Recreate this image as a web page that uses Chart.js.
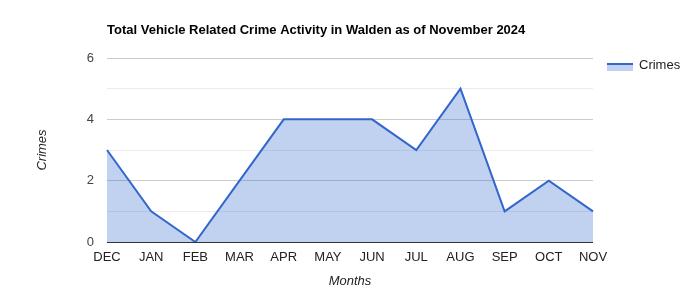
<!DOCTYPE html>
<html>
<head>
<meta charset="utf-8">
<script src="https://cdn.jsdelivr.net/npm/chart.js@4/dist/chart.umd.min.js"></script>
<style>
    html, body { margin: 0; padding: 0; background: #fff; }
    #wrap { width: 700px; height: 300px; position: relative; }
</style>
</head>
<body>
<div id="wrap"><canvas id="crimeChart"></canvas></div>
<script>
// ---- Data ----
const months = ['DEC', 'JAN', 'FEB', 'MAR', 'APR', 'MAY', 'JUN', 'JUL', 'AUG', 'SEP', 'OCT', 'NOV'];
const crimes = [3, 1, 0, 2, 4, 4, 4, 3, 5, 1, 2, 1];
const yTicks = [0, 2, 4, 6];

const chartTitle = 'Total Vehicle Related Crime Activity in Walden as of November 2024';
const seriesName = 'Crimes';

const FONT = '"Liberation Sans", Arial, sans-serif';
const LINE = '#3366cc';
const FILL = 'rgba(51, 102, 204, 0.3)';

// title + legend drawn by hand so they sit where the sheet puts them
const headerPlugin = {
    id: 'header',
    afterDraw(chart) {
        const ctx = chart.ctx;
        const area = chart.chartArea;
        ctx.save();
        ctx.fillStyle = '#000';
        ctx.font = 'bold 13px ' + FONT;
        ctx.textBaseline = 'middle';
        ctx.textAlign = 'left';
        ctx.fillText(chartTitle, area.left, 30);

        // legend
        const lx = area.right + 14, ly = 64;
        ctx.fillStyle = FILL;
        ctx.fillRect(lx, ly, 26, 7);
        ctx.strokeStyle = LINE;
        ctx.lineWidth = 2;
        ctx.beginPath();
        ctx.moveTo(lx, ly);
        ctx.lineTo(lx + 26, ly);
        ctx.stroke();
        ctx.fillStyle = '#222';
        ctx.font = '13px ' + FONT;
        ctx.fillText(seriesName, lx + 32, ly + 1);
        ctx.restore();
    }
};

new Chart(document.getElementById('crimeChart'), {
    type: 'line',
    data: {
        labels: months,
        datasets: [{
            label: seriesName,
            data: crimes,
            borderColor: LINE,
            backgroundColor: FILL,
            borderWidth: 2,
            fill: 'origin',
            tension: 0,
            pointRadius: 0,
            pointHoverRadius: 0,
        }]
    },
    options: {
        responsive: true,
        maintainAspectRatio: false,
        animation: false,
        layout: {
            padding: { top: 58, right: 107, left: 0, bottom: 0 }
        },
        plugins: {
            legend: { display: false },
            title: { display: false },
            tooltip: { enabled: false }
        },
        scales: {
            x: {
                offset: false,
                afterFit: s => { s.height = 58; },
                grid: { display: false, drawTicks: false },
                border: { display: false },
                ticks: {
                    color: '#222',
                    font: { size: 13, family: FONT },
                    maxRotation: 0,
                    autoSkip: false,
                    padding: 8,
                },
                title: {
                    display: true,
                    text: 'Months',
                    color: '#222',
                    font: { size: 13, style: 'italic', family: FONT },
                    padding: { top: 0, bottom: 11 }
                }
            },
            y: {
                min: 0,
                max: 6,
                afterFit: s => { s.width = 107; },
                border: { display: false },
                grid: {
                    drawTicks: false,
                    color: c => c.tick.value === 0 ? '#333333' : (yTicks.includes(c.tick.value) ? '#cccccc' : '#ebebeb'),
                    lineWidth: 1,
                },
                ticks: {
                    stepSize: 1,
                    color: '#444',
                    font: { size: 13, family: FONT },
                    padding: 13,
                    callback: v => yTicks.includes(v) ? String(v) : ''
                },
                title: {
                    display: true,
                    text: 'Crimes',
                    color: '#222',
                    font: { size: 13, style: 'italic', family: FONT },
                    padding: { top: 35, bottom: 0 }
                }
            }
        }
    },
    plugins: [headerPlugin]
});
</script>
</body>
</html>
